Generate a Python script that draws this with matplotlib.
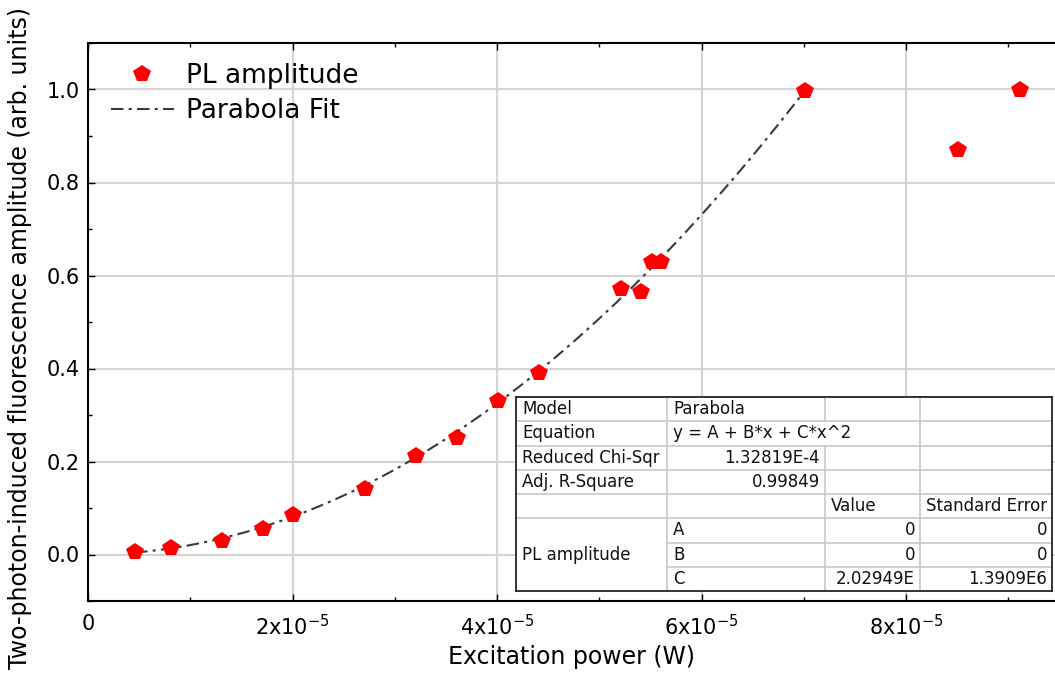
import matplotlib
matplotlib.use("Agg")
import matplotlib.pyplot as plt
import numpy as np
from matplotlib.ticker import MultipleLocator, FuncFormatter

plt.rcParams['font.family'] = ['DejaVu Sans']
plt.rcParams['mathtext.fontset'] = 'dejavusans'

# ---- data ----
power = [4.6e-6, 8.1e-6, 1.31e-5, 1.71e-5, 2.0e-5, 2.71e-5, 3.21e-5, 3.61e-5,
         4.01e-5, 4.41e-5, 5.21e-5, 5.41e-5, 5.52e-5, 5.60e-5, 7.01e-5, 8.51e-5, 9.11e-5]
amplitude = [0.006, 0.015, 0.030, 0.054, 0.086, 0.140, 0.212, 0.250,
             0.330, 0.390, 0.570, 0.565, 0.630, 0.630, 0.996, 0.870, 1.000]
fit_C = 2.02949e8
fit_range = [4.6e-6, 7.0e-5]

table_rows = [
    ["Model", "Parabola", "", ""],
    ["Equation", "y = A + B*x + C*x^2", "", ""],
    ["Reduced Chi-Sqr", "1.32819E-4", "", ""],
    ["Adj. R-Square", "0.99849", "", ""],
    ["", "", "Value", "Standard Error"],
    ["PL amplitude", "A", "0", "0"],
    ["", "B", "0", "0"],
    ["", "C", "2.02949E", "1.3909E6"],
]

W, H = 1055, 677
fig = plt.figure(figsize=(W / 100, H / 100), dpi=100)

def fx(px):
    return px / W

def fy(py):
    return 1 - py / H

ax = fig.add_axes([fx(88), fy(601), fx(1055) - fx(88), fy(43) - fy(601)])
ax.set_xlim(0, 9.457e-5)
ax.set_ylim(-0.1, 1.1)

ax.xaxis.set_major_locator(MultipleLocator(2e-5))
ax.xaxis.set_minor_locator(MultipleLocator(1e-5))
ax.yaxis.set_major_locator(MultipleLocator(0.2))
ax.yaxis.set_minor_locator(MultipleLocator(0.1))

def xfmt(v, pos):
    if abs(v) < 1e-12:
        return "0"
    m = v / 1e-5
    return r"$\mathregular{%dx10^{-5}}$" % round(m)

ax.xaxis.set_major_formatter(FuncFormatter(xfmt))
ax.yaxis.set_major_formatter(FuncFormatter(lambda v, p: "%.1f" % v))

ax.grid(True, which='major', color='#d4d4d4', linewidth=1.5, zorder=0)
ax.set_axisbelow(True)
ax.tick_params(axis='both', which='major', direction='in', length=5, width=1,
               labelsize=15, top=True, right=False)
ax.tick_params(axis='both', which='minor', direction='in', length=3, width=1,
               top=True, right=False)
ax.tick_params(axis='x', which='major', pad=9)
ax.tick_params(axis='y', which='major', pad=6)
for s in ['left', 'bottom', 'top']:
    ax.spines[s].set_linewidth(1.5)
ax.spines['right'].set_visible(False)

xf = np.linspace(fit_range[0], fit_range[1], 200)
yf = fit_C * xf ** 2
ax.plot(xf, yf, linestyle='-.', color='#3a3a3a', linewidth=1.5, zorder=3,
        label='Parabola Fit', dashes=(6, 2.5, 1.5, 2.5))
ax.plot(power, amplitude, linestyle='none', marker='p', markersize=13,
        color='red', markeredgewidth=0, zorder=4, label='PL amplitude')

handles, labels = ax.get_legend_handles_labels()
leg = ax.legend(handles[::-1], labels[::-1], loc='upper left',
                bbox_to_anchor=(-0.004, 1.011), frameon=False, fontsize=19,
                handlelength=2.4, handletextpad=0.45, labelspacing=0.35,
                borderaxespad=0.6, numpoints=1)

ax.set_xlabel("Excitation power (W)", fontsize=17)
fig.text(fx(20), fy(338), "Two-photon-induced fluorescence amplitude (arb. units)",
         rotation=90, ha='center', va='center', fontsize=17)
ax.xaxis.set_label_coords(0.5, -0.078)

# ---- results table ----
tl, tr, tt, tb = 516, 1052, 397, 591
cols = [516, 667, 825, 920, 1052]
nrows = len(table_rows)
rh = (tb - tt) / nrows
tax = fig.add_axes([fx(tl), fy(tb), fx(tr) - fx(tl), fy(tt) - fy(tb)], zorder=5)
tax.set_xlim(tl, tr)
tax.set_ylim(tb, tt)
tax.set_xticks([])
tax.set_yticks([])
tax.set_facecolor('white')
for s in tax.spines.values():
    s.set_linewidth(1.3)
    s.set_color('#222222')

gc = '#c8c8c8'
# horizontal lines
for i in range(1, nrows):
    y = tt + i * rh
    x0 = cols[0] if i <= 5 else cols[1]
    tax.plot([x0, tr], [y, y], color=gc, lw=1.2)
# vertical lines
for j in (1, 2, 3):
    x = cols[j]
    for i in range(nrows):
        if j == 2 and i == 1:
            continue
        tax.plot([x, x], [tt + i * rh, tt + (i + 1) * rh], color=gc, lw=1.2)

fs = 12
tcolor = '#111111'
for i, row in enumerate(table_rows):
    yc = tt + (i + 0.5) * rh
    for j, txt in enumerate(row):
        if not txt:
            continue
        if i == 5 and j == 0:
            tax.text(cols[0] + 6, tt + 6.5 * rh, txt, ha='left', va='center',
                     fontsize=fs, color=tcolor)
            continue
        if (i in (2, 3) and j == 1) or (i >= 5 and j >= 2):
            tax.text(cols[j + 1] - 5, yc, txt, ha='right', va='center',
                     fontsize=fs, color=tcolor)
        else:
            tax.text(cols[j] + 6, yc, txt, ha='left', va='center',
                     fontsize=fs, color=tcolor)

fig.savefig("out.png", dpi=100)
